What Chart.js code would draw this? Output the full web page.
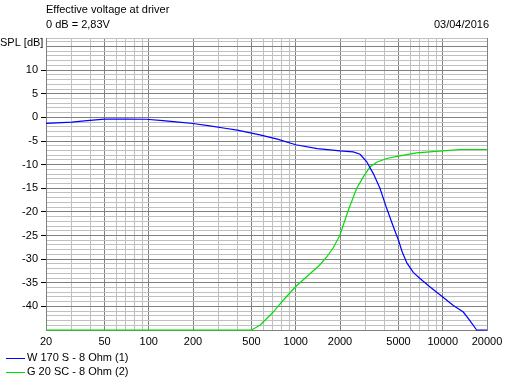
<!DOCTYPE html>
<html>
<head>
<meta charset="utf-8">
<script src="https://cdn.jsdelivr.net/npm/chart.js@4/dist/chart.umd.min.js"></script>
<style>
  html, body { margin: 0; padding: 0; background: #fff; }
  #wrap { width: 520px; height: 385px; position: relative; }
</style>
</head>
<body>
<div id="wrap"><canvas id="spl" width="520" height="385"></canvas></div>
<script>
// frequency response
const wooferFreq = [20, 30, 38, 50, 70, 96, 125, 160, 200, 260, 330, 400, 570, 750, 1000, 1400, 2000, 2460, 2740, 3040, 3370, 3740, 4160, 4620, 5000, 5300, 5700, 6300, 7000, 8200, 10000, 11800, 13800, 15300, 17000, 20000];
const wooferDb   = [-1.25, -1.0, -0.7, -0.35, -0.35, -0.4, -0.7, -1.0, -1.3, -1.8, -2.3, -2.7, -3.7, -4.6, -5.8, -6.6, -7.1, -7.3, -7.8, -9.4, -11.9, -15.0, -19.3, -23.2, -26.0, -28.5, -30.8, -32.8, -34.1, -35.9, -38.0, -39.8, -41.2, -43.0, -45.0, -45.0];

const tweeterFreq = [20, 500, 571, 703, 822, 1000, 1250, 1450, 1620, 1800, 2000, 2280, 2600, 2880, 3200, 3550, 4160, 5000, 6640, 10000, 13100, 20000];
const tweeterDb   = [-45, -45, -44.0, -41.2, -38.7, -35.8, -33.1, -31.3, -29.6, -27.6, -24.9, -19.6, -15.0, -12.6, -10.5, -9.5, -8.7, -8.2, -7.5, -7.1, -6.8, -6.8];

const freqGrid = [20, 30, 40, 50, 60, 70, 80, 90, 100, 200, 300, 400, 500, 600, 700, 800, 900, 1000, 2000, 3000, 4000, 5000, 6000, 7000, 8000, 9000, 10000, 20000];
const freqLabels = [20, 50, 100, 200, 500, 1000, 2000, 5000, 10000, 20000];
const dbLabels = [10, 5, 0, -5, -10, -15, -20, -25, -30, -35, -40];

const seriesNames = ['W 170 S - 8 Ohm (1)', 'G 20 SC - 8 Ohm (2)'];
const seriesColors = ['#0000ff', '#00dd00'];

const FONT = '11px "Liberation Sans", Arial, sans-serif';

function pts(xs, ys) {
  return xs.map((x, i) => ({ x: x, y: ys[i] }));
}

// header texts + legend, drawn on the canvas
const decorations = {
  id: 'decorations',
  afterDraw(chart) {
    const c = chart.ctx;
    c.save();
    c.font = FONT;
    c.fillStyle = '#000';
    c.textBaseline = 'middle';
    c.textAlign = 'left';
    c.fillText('Effective voltage at driver', 46, 10);
    c.fillText('0 dB = 2,83V', 46, 25);
    c.fillText('SPL [dB]', 0, 43);
    c.textAlign = 'right';
    c.fillText('03/04/2016', 489, 25);
    c.textAlign = 'left';
    seriesNames.forEach((name, i) => {
      const y = 358 + i * 14;
      c.strokeStyle = seriesColors[i];
      c.lineWidth = 1;
      c.beginPath();
      c.moveTo(6, y + 0.5);
      c.lineTo(25, y + 0.5);
      c.stroke();
      c.fillText(name, 27, y);
    });
    c.restore();
  }
};

new Chart(document.getElementById('spl'), {
  type: 'line',
  data: {
    datasets: [
      { label: seriesNames[0], data: pts(wooferFreq, wooferDb), borderColor: seriesColors[0], clip: 2 },
      { label: seriesNames[1], data: pts(tweeterFreq, tweeterDb), borderColor: seriesColors[1], clip: 2 }
    ]
  },
  options: {
    responsive: false,
    animation: false,
    devicePixelRatio: 1,
    layout: { padding: { left: 0, top: 38, right: 33, bottom: 0 } },
    elements: {
      point: { radius: 0 },
      line: { borderWidth: 1.2, tension: 0 }
    },
    plugins: { legend: { display: false }, tooltip: { enabled: false } },
    scales: {
      x: {
        type: 'logarithmic',
        min: 20,
        max: 20000,
        afterBuildTicks: (axis) => { axis.ticks = freqGrid.map(v => ({ value: v })); },
        afterFit: (axis) => { axis.height = 55; },
        ticks: {
          autoSkip: false,
          maxRotation: 0,
          color: '#000',
          font: { family: '"Liberation Sans", Arial, sans-serif', size: 11 },
          padding: 5,
          callback: (v) => freqLabels.includes(v) ? String(v) : ''
        },
        grid: {
          drawTicks: false,
          color: (ctx) => freqLabels.includes(ctx.tick && ctx.tick.value) ? '#808080' : '#c0c0c0'
        },
        border: { color: '#808080' }
      },
      y: {
        min: -45,
        max: 16.8,
        afterBuildTicks: (axis) => {
          const t = [];
          for (let v = -45; v <= 16; v++) t.push({ value: v });
          t.push({ value: 16.8 });
          axis.ticks = t;
        },
        afterFit: (axis) => { axis.width = 46; },
        ticks: {
          autoSkip: false,
          color: '#000',
          font: { family: '"Liberation Sans", Arial, sans-serif', size: 11 },
          padding: 3,
          callback: (v) => dbLabels.includes(v) ? String(v) : ''
        },
        grid: {
          tickLength: 5,
          color: (ctx) => {
            const v = ctx.tick && ctx.tick.value;
            return (v % 5 === 0) ? '#808080' : '#c0c0c0';
          },
          tickColor: (ctx) => dbLabels.includes(ctx.tick && ctx.tick.value) ? '#000' : 'rgba(0,0,0,0)'
        },
        border: { color: '#808080' }
      }
    }
  },
  plugins: [decorations]
});
</script>
</body>
</html>
